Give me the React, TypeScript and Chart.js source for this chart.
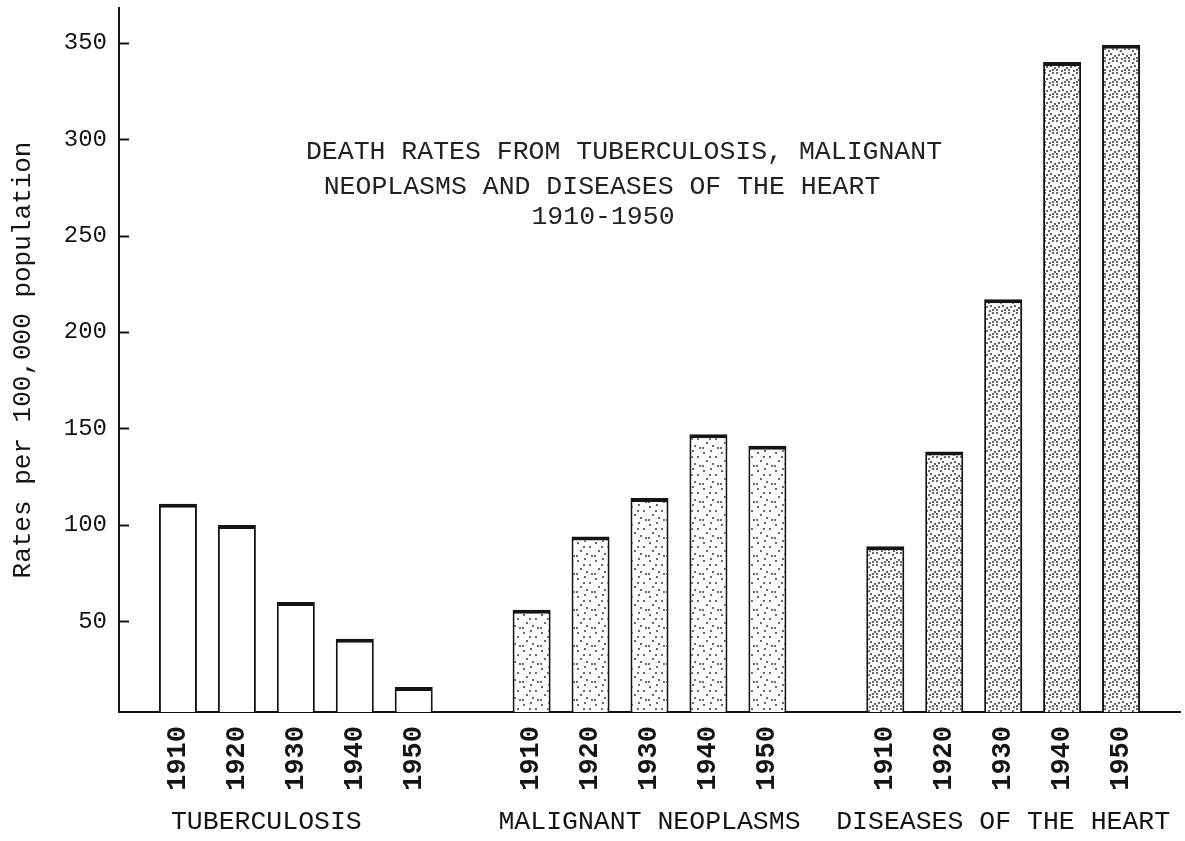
import { useEffect, useRef } from "react";
import { Chart, registerables } from "chart.js";

Chart.register(...registerables);

// ---- data ----
const years = ["1910", "1920", "1930", "1940", "1950"];
const groupNames = ["TUBERCULOSIS", "MALIGNANT NEOPLASMS", "DISEASES OF THE HEART"];
const tuberculosis = [111, 100, 60, 41, 16];
const malignantNeoplasms = [56, 94, 114, 147, 141];
const diseasesOfTheHeart = [89, 138, 217, 340, 349];
const yTicks = [50, 100, 150, 200, 250, 300, 350];
const titleLines = [
  "DEATH RATES FROM TUBERCULOSIS, MALIGNANT",
  "NEOPLASMS AND DISEASES OF THE HEART",
  "1910-1950",
];
const yAxisTitle = "Rates per 100,000 population";

const FONT = "'Liberation Mono', 'DejaVu Sans Mono', monospace";
const INK = "#141414";

// categories: blank, 5 years, blank, 5 years, blank, 5 years, blank
const labels = ["", ...years, "", ...years, "", ...years, ""];
const groupStart = (g: number) => 1 + g * (years.length + 1);
function place(values: number[], g: number) {
  const arr: (number | null)[] = labels.map(() => null);
  values.forEach((v, i) => {
    arr[groupStart(g) + i] = v;
  });
  return arr;
}

function dotPattern(size: number, dots: number[][], r: number, color: string) {
  const c = document.createElement("canvas");
  c.width = size;
  c.height = size;
  const x = c.getContext("2d")!;
  x.fillStyle = "#ffffff";
  x.fillRect(0, 0, size, size);
  x.fillStyle = color;
  dots.forEach(([a, b]) => {
    x.beginPath();
    x.arc(a, b, r, 0, Math.PI * 2);
    x.fill();
  });
  return x.createPattern(c, "repeat")!;
}

const decorations = {
  id: "decorations",
  afterDraw(chart: any) {
    const { ctx, chartArea, scales } = chart;
    const y = scales.y;
    const x = scales.x;
    ctx.save();
    // inward tick marks on the y axis
    ctx.strokeStyle = INK;
    ctx.lineWidth = 2;
    yTicks.forEach((v) => {
      const py = Math.round(y.getPixelForValue(v)) + 0.5;
      ctx.beginPath();
      ctx.moveTo(chartArea.left, py);
      ctx.lineTo(chartArea.left + 10, py);
      ctx.stroke();
    });
    // title inside the plot
    ctx.fillStyle = "#222";
    ctx.font = `26.5px ${FONT}`;
    ctx.textAlign = "center";
    ctx.textBaseline = "middle";
    const tx = [505, 483, 484];
    const ty = [144, 179, 209];
    titleLines.forEach((t, i) => {
      ctx.fillText(t, chartArea.left + tx[i], chartArea.top + ty[i]);
    });
    // group names under the year labels
    ctx.fillStyle = INK;
    ctx.font = `26.5px ${FONT}`;
    const shift = [-0.5, 0, 0];
    groupNames.forEach((name, g) => {
      const px = x.getPixelForValue(groupStart(g) + 2 + shift[g]);
      ctx.fillText(name, px, chartArea.bottom + 110);
    });
    ctx.restore();
  },
};

export default function App() {
  const ref = useRef<HTMLCanvasElement>(null);

  useEffect(() => {
    document.body.style.margin = "0";
    document.body.style.background = "#ffffff";
    const mnFill = dotPattern(
      18,
      [[2, 3], [9, 1], [14, 7], [5, 11], [11, 14], [16, 16], [1, 16], [8, 7]],
      1.0,
      "#3a3a3a"
    );
    const hdFill = dotPattern(
      12,
      [[1, 1], [5, 3], [9, 1], [3, 7], [7, 6], [11, 8], [1, 10], [6, 11], [9, 10]],
      1.0,
      "#333333"
    );
    const border = { top: 4, left: 2, right: 2, bottom: 0 };
    const common = {
      borderColor: INK,
      borderWidth: border,
      borderSkipped: "start" as const,
      grouped: false,
      barPercentage: 0.645,
      categoryPercentage: 1,
    };
    const chart = new Chart(ref.current!, {
      type: "bar",
      data: {
        labels,
        datasets: [
          { label: groupNames[0], data: place(tuberculosis, 0), backgroundColor: "#ffffff", ...common },
          { label: groupNames[1], data: place(malignantNeoplasms, 1), backgroundColor: mnFill, ...common },
          { label: groupNames[2], data: place(diseasesOfTheHeart, 2), backgroundColor: hdFill, ...common },
        ],
      },
      options: {
        animation: false,
        responsive: false,
        devicePixelRatio: 1,
        layout: { padding: { top: 8, right: 5, bottom: 0, left: 0 } },
        plugins: {
          legend: { display: false },
          tooltip: { enabled: false },
          title: { display: false },
        },
        scales: {
          x: {
            type: "category",
            offset: false,
            grid: { display: false, drawTicks: false },
            border: { display: true, color: INK, width: 2 },
            ticks: {
              autoSkip: false,
              maxRotation: 90,
              minRotation: 90,
              padding: 14,
              color: INK,
              font: { family: FONT, size: 27, weight: "bold" },
            },
            afterFit: (s: any) => {
              s.height = 129;
              s.paddingLeft = 0;
              s.paddingRight = 0;
            },
          },
          y: {
            type: "linear",
            min: 3,
            max: 368,
            grid: { display: false, drawTicks: false },
            border: { display: true, color: INK, width: 2 },
            afterBuildTicks: (s: any) => {
              s.ticks = yTicks.map((v) => ({ value: v }));
            },
            ticks: {
              padding: 12,
              color: INK,
              font: { family: FONT, size: 24 },
            },
            title: {
              display: true,
              text: yAxisTitle,
              color: INK,
              font: { family: FONT, size: 26 },
              padding: { top: 8, bottom: 0 },
            },
            afterFit: (s: any) => {
              s.width = 119;
              s.paddingTop = 0;
              s.paddingBottom = 0;
            },
          },
        },
      },
      plugins: [decorations],
    });
    return () => chart.destroy();
  }, []);

  return (
    <div style={{ width: 1185, height: 841 }}>
      <canvas ref={ref} width={1185} height={841} style={{ display: "block" }} />
    </div>
  );
}
